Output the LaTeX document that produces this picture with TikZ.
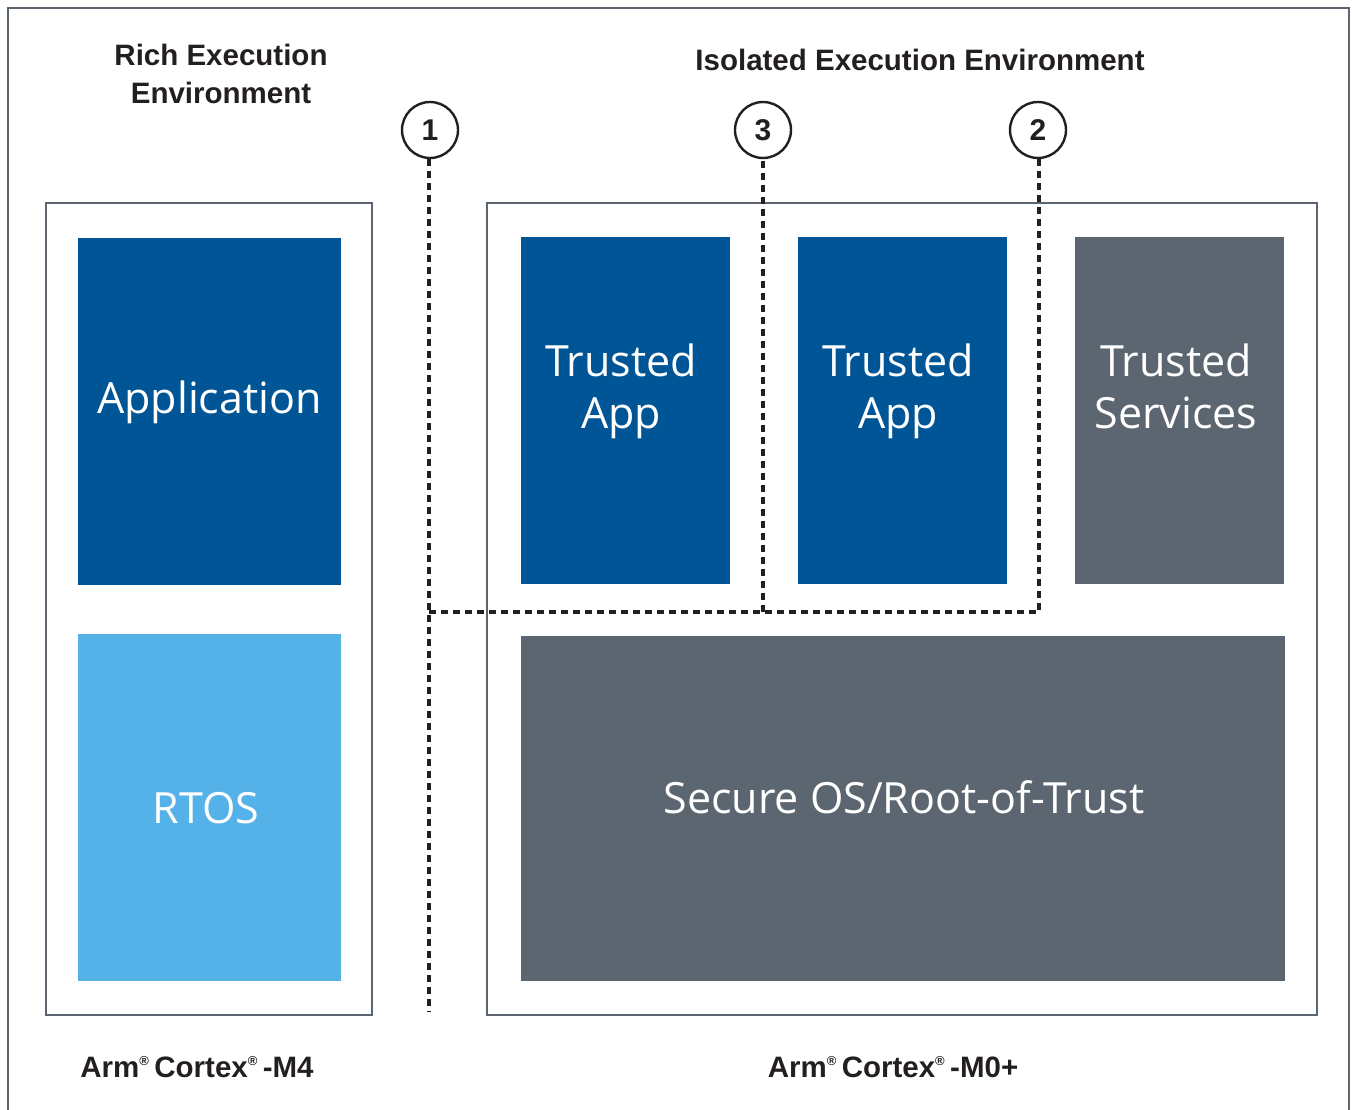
\documentclass[tikz,border=0pt]{standalone}
\usepackage{fontspec}
\setmainfont{Open Sans}
\newfontfamily\labelfont{Liberation Sans}
\definecolor{frame}{HTML}{5C6670}
\definecolor{darkblue}{HTML}{005596}
\definecolor{lightblue}{HTML}{55B2E8}
\definecolor{slate}{HTML}{5C6670}
\definecolor{ink}{HTML}{231F20}
\tikzset{
  x=1pt, y=-1pt,
  panel/.style={draw=frame, line width=2.2pt},
  block/.style={draw=none, text=white, align=center, text depth=11pt,
    font=\fontsize{43}{52}\selectfont},
  heading/.style={text=ink, align=center, font=\labelfont\bfseries\fontsize{29.5}{38}\selectfont},
  marker/.style={circle, draw=ink, line width=2.4pt, minimum size=56pt, inner sep=0pt, text=ink, font=\labelfont\bfseries\fontsize{30}{30}\selectfont},
  boundary/.style={draw=ink, line width=4pt, dash pattern=on 7pt off 5pt}
}
\newcommand{\regmark}{\raisebox{3pt}{\textsuperscript{\fontsize{13}{13}\selectfont\textregistered}}}
\begin{document}
\begin{tikzpicture}
\useasboundingbox (0,0) rectangle (1352,1110);
% outer frame, open at the bottom
\draw[panel, line width=2.6pt] (8,1112) -- (8,8) -- (1349,8) -- (1349,1112);

% headings
\node[heading] (rich) at (221,74) {Rich Execution\\Environment};
\node[heading] (iso) at (920,60) {Isolated Execution Environment};

% processor panels
\draw[panel] (46,203) rectangle (372,1015);
\draw[panel] (487,203) rectangle (1317,1015);

% software blocks
\fill[darkblue] (78,238) rectangle (341,585);
\node[block] (app) at (209.5,403) {Application};
\fill[lightblue] (78,634) rectangle (341,981);
\node[block] (rtos) at (206,813) {RTOS};

\fill[darkblue] (521,237) rectangle (730,584);
\node[block] (ta1) at (621,392) {Trusted\\App};
\fill[darkblue] (798,237) rectangle (1007,584);
\node[block] (ta2) at (898,392) {Trusted\\App};
\fill[slate] (1075,237) rectangle (1284,584);
\node[block] (ts) at (1176,392) {Trusted\\Services};
\fill[slate] (521,636) rectangle (1285,981);
\node[block] (sos) at (904,803) {Secure OS/Root-of-Trust};

% isolation boundaries
\node[marker] (m1) at (430,130) {1};
\node[marker] (m3) at (763,130) {3};
\node[marker] (m2) at (1038,130) {2};
\coordinate (b1) at (429,1012);
\coordinate (j1) at (429,612);
\coordinate (j3) at (763,612);
\coordinate (j2) at (1039,612);
\draw[boundary] (m1.south -| b1) -- (b1);
\draw[boundary] (j1) -- (j2) -- (m2.south -| j2);
\draw[boundary] (j3) -- (m3.south -| j3);

% processor labels
\node[heading] (m4) at (197,1067) {Arm\regmark\,Cortex\regmark\,-M4};
\node[heading] (m0) at (893,1067) {Arm\regmark\,Cortex\regmark\,-M0+};
\end{tikzpicture}
\end{document}
